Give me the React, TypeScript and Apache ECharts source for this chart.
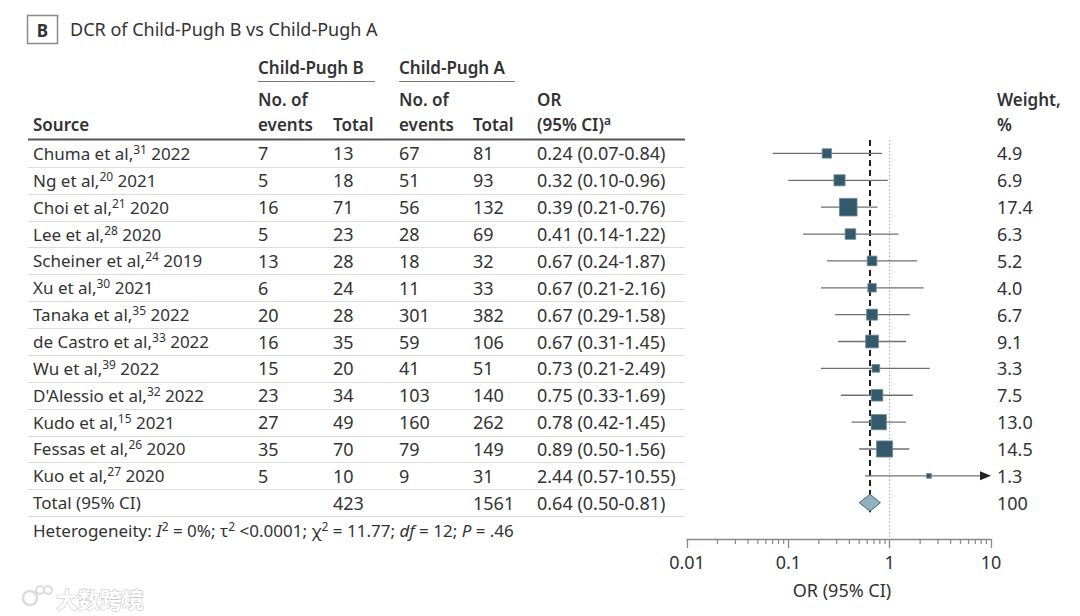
import React, { useEffect, useRef } from 'react';
import * as echarts from 'echarts';

// ---------- data ----------
const studies = ['Chuma et al,', 'Ng et al,', 'Choi et al,', 'Lee et al,', 'Scheiner et al,', 'Xu et al,', 'Tanaka et al,', 'de Castro et al,', 'Wu et al,', "D'Alessio et al,", 'Kudo et al,', 'Fessas et al,', 'Kuo et al,'];
const refs = ['31', '20', '21', '28', '24', '30', '35', '33', '39', '32', '15', '26', '27'];
const years = ['2022', '2021', '2020', '2020', '2019', '2021', '2022', '2022', '2022', '2022', '2021', '2020', '2020'];
const eventsB = [7, 5, 16, 5, 13, 6, 20, 16, 15, 23, 27, 35, 5];
const totalB = [13, 18, 71, 23, 28, 24, 28, 35, 20, 34, 49, 70, 10];
const eventsA = [67, 51, 56, 28, 18, 11, 301, 59, 41, 103, 160, 79, 9];
const totalA = [81, 93, 132, 69, 32, 33, 382, 106, 51, 140, 262, 149, 31];
const oddsRatio = [0.24, 0.32, 0.39, 0.41, 0.67, 0.67, 0.67, 0.67, 0.73, 0.75, 0.78, 0.89, 2.44];
const ciLow = [0.07, 0.10, 0.21, 0.14, 0.24, 0.21, 0.29, 0.31, 0.21, 0.33, 0.42, 0.50, 0.57];
const ciHigh = [0.84, 0.96, 0.76, 1.22, 1.87, 2.16, 1.58, 1.45, 2.49, 1.69, 1.45, 1.56, 10.55];
const weights = [4.9, 6.9, 17.4, 6.3, 5.2, 4.0, 6.7, 9.1, 3.3, 7.5, 13.0, 14.5, 1.3];
const pooledLabel = 'Total (95% CI)';
const pooledTotals = [423, 1561];
const pooledOR = [0.64, 0.50, 0.81];
const pooledWeight = '100';
const tickValues = [0.01, 0.1, 1, 10];
const tickLabels = ['0.01', '0.1', '1', '10'];
const minorTicks = [0.02, 0.03, 0.04, 0.05, 0.06, 0.07, 0.08, 0.09, 0.2, 0.3, 0.4, 0.5, 0.6, 0.7, 0.8, 0.9, 2, 3, 4, 5, 6, 7, 8, 9];

// ---------- layout ----------
const FONT = '"Noto Sans", "Open Sans", sans-serif';
const FS = 17;
const NFS = 18;
const TXT = '#333';
const GRID_LEFT = 687;
const GRID_RIGHT_X = 991;
const GRID_TOP = 140;
const AXIS_Y = 539;
const Y_MIN = -0.5;
const Y_MAX = 14.35;
const UNIT = (AXIS_Y - GRID_TOP) / (Y_MAX - Y_MIN);
const rowY = (i: number) => GRID_TOP + (i - Y_MIN) * UNIT;
const COL = { src: 33, evB: 258, totB: 333, evA: 399, totA: 473, or: 537, w: 997 };
const fmt = (v: number) => v.toFixed(2);

const richBase = {
  n: { fontSize: FS, fontFamily: FONT, fill: TXT, lineHeight: 20, verticalAlign: 'middle' },
  s: { fontSize: 12, fontFamily: FONT, fill: TXT, lineHeight: 11, verticalAlign: 'top' },
  i: { fontSize: FS, fontFamily: FONT, fill: TXT, lineHeight: 20, fontStyle: 'italic', verticalAlign: 'middle' },
  b: { fontSize: FS, fontFamily: FONT, fill: TXT, lineHeight: 20, fontWeight: 600, verticalAlign: 'middle' },
  bs: { fontSize: 12, fontFamily: FONT, fill: TXT, lineHeight: 11, fontWeight: 600, verticalAlign: 'top' },
};

function text(x: number, y: number, t: string, extra: any = {}) {
  return {
    type: 'text',
    x,
    y,
    silent: true,
    style: {
      text: t,
      fill: TXT,
      fontSize: FS,
      fontFamily: FONT,
      align: 'left',
      verticalAlign: 'middle',
      rich: richBase,
      ...extra,
    },
  };
}
const num = (x: number, y: number, t: string) => text(x, y, t, { fontSize: NFS });

function hline(x1: number, x2: number, y: number, stroke: string, lineWidth: number) {
  return { type: 'line', silent: true, shape: { x1, y1: y, x2, y2: y }, style: { stroke, lineWidth } };
}

function buildGraphics() {
  const g: any[] = [];
  // title
  g.push({ type: 'rect', shape: { x: 27.5, y: 15.5, width: 30, height: 28 }, style: { fill: '#fff', stroke: '#8a8a8a', lineWidth: 1.5 } });
  g.push(text(42.5, 30, 'B', { align: 'center', fontWeight: 'bold', fontSize: 17 }));
  g.push(text(70, 29, 'DCR of Child-Pugh B vs Child-Pugh A', { fontSize: 18 }));
  // column headers
  g.push(text(COL.evB, 67, 'Child-Pugh B', { fontWeight: 600 }));
  g.push(text(COL.evA, 67, 'Child-Pugh A', { fontWeight: 600 }));
  g.push(hline(258, 375, 81.5, '#777', 1));
  g.push(hline(399, 515, 81.5, '#777', 1));
  g.push(text(COL.evB, 99, 'No. of', { fontWeight: 600 }));
  g.push(text(COL.evA, 99, 'No. of', { fontWeight: 600 }));
  g.push(text(COL.or, 99, 'OR', { fontWeight: 600 }));
  g.push(text(COL.w, 99, 'Weight,', { fontWeight: 600 }));
  g.push(text(COL.src, 124, 'Source', { fontWeight: 600 }));
  g.push(text(COL.evB, 124, 'events', { fontWeight: 600 }));
  g.push(text(COL.totB, 124, 'Total', { fontWeight: 600 }));
  g.push(text(COL.evA, 124, 'events', { fontWeight: 600 }));
  g.push(text(COL.totA, 124, 'Total', { fontWeight: 600 }));
  g.push(text(COL.or, 124, '{b|(95% CI)}{bs|a}'));
  g.push(text(COL.w, 124, '%', { fontWeight: 600 }));
  g.push(hline(28, 685, 139.5, '#555', 2));
  // study rows
  studies.forEach((s, i) => {
    const y = rowY(i);
    g.push(text(COL.src, y, `{n|${s}}{s|${refs[i]}}{n| ${years[i]}}`));
    g.push(num(COL.evB, y, String(eventsB[i])));
    g.push(num(COL.totB, y, String(totalB[i])));
    g.push(num(COL.evA, y, String(eventsA[i])));
    g.push(num(COL.totA, y, String(totalA[i])));
    g.push(num(COL.or, y, `${fmt(oddsRatio[i])} (${fmt(ciLow[i])}-${fmt(ciHigh[i])})`));
    g.push(num(COL.w, y, weights[i].toFixed(1)));
    g.push(hline(28, 685, Math.round(y + UNIT / 2) + 0.5, '#dcdcdc', 1.2));
  });
  // pooled row
  const py = rowY(studies.length);
  g.push(text(COL.src, py, pooledLabel));
  g.push(num(COL.totB, py, String(pooledTotals[0])));
  g.push(num(COL.totA, py, String(pooledTotals[1])));
  g.push(num(COL.or, py, `${fmt(pooledOR[0])} (${fmt(pooledOR[1])}-${fmt(pooledOR[2])})`));
  g.push(num(COL.w, py, pooledWeight));
  g.push(hline(28, 685, Math.round(py + UNIT / 2) + 0.5, '#dcdcdc', 1.2));
  // heterogeneity
  g.push(text(COL.src, 530, '{n|Heterogeneity: }{i|I}{s|2}{n| = 0%; τ}{s|2}{n| <0.0001; χ}{s|2}{n| = 11.77; }{i|df}{n| = 12; }{i|P}{n| = .46}'));
  // axis name
  g.push(text(842, 590, 'OR (95% CI)', { align: 'center', fontSize: 18 }));
  // watermark
  g.push({ type: 'circle', shape: { cx: 30, cy: 598, r: 7 }, style: { fill: 'none', stroke: '#ddd', lineWidth: 2.5 } });
  g.push({ type: 'circle', shape: { cx: 40, cy: 590, r: 4 }, style: { fill: 'none', stroke: '#ddd', lineWidth: 2 } });
  g.push({ type: 'circle', shape: { cx: 48, cy: 590, r: 4 }, style: { fill: 'none', stroke: '#ddd', lineWidth: 2 } });
  g.push(text(56, 598, '大数跨境', { fontSize: 22, fontFamily: '"Noto Sans CJK SC", sans-serif', fill: '#fff', stroke: '#c8c8c8', lineWidth: 1.2, fontWeight: 'bold' }));
  return g;
}

export default function App() {
  const ref = useRef<HTMLDivElement>(null);
  useEffect(() => {
    document.body.style.margin = '0';
    if (!ref.current) return;
    const chart = echarts.init(ref.current, null, { renderer: 'svg' });
    const studyData = studies.map((_, i) => [oddsRatio[i], i, ciLow[i], ciHigh[i], weights[i]]);
    const option: any = {
      animation: false,
      backgroundColor: '#fff',
      grid: { left: GRID_LEFT, right: 1080 - GRID_RIGHT_X, top: GRID_TOP, bottom: 616 - AXIS_Y },
      xAxis: {
        type: 'log',
        logBase: 10,
        min: tickValues[0],
        max: tickValues[tickValues.length - 1],
        axisLine: { show: true, onZero: false, lineStyle: { color: '#888', width: 1.3 } },
        axisTick: { show: true, inside: false, length: 9, lineStyle: { color: '#888', width: 1.3 } },
        axisLabel: {
          color: TXT,
          fontSize: 18,
          fontFamily: FONT,
          margin: 14,
          formatter: (v: number) => {
            let best = 0;
            tickValues.forEach((t, k) => {
              if (Math.abs(Math.log10(t) - Math.log10(v)) < Math.abs(Math.log10(tickValues[best]) - Math.log10(v))) best = k;
            });
            return tickLabels[best];
          },
        },
        splitLine: { show: false },
        minorTick: { show: false },
      },
      yAxis: {
        type: 'value',
        inverse: true,
        min: Y_MIN,
        max: Y_MAX,
        show: false,
      },
      series: [
        {
          type: 'line',
          data: [[1, Y_MIN], [1, Y_MAX]],
          symbol: 'none',
          lineStyle: { color: '#aaa', width: 1, type: [1.5, 2] },
          silent: true,
          z: 1,
        },
        {
          type: 'line',
          data: [[pooledOR[0], Y_MIN], [pooledOR[0], studies.length + 0.35]],
          symbol: 'none',
          lineStyle: { color: '#1e1e1e', width: 2, type: [6, 4] },
          silent: true,
          z: 2,
        },
        {
          type: 'custom',
          z: 3,
          silent: true,
          clip: false,
          encode: { x: 0, y: 1 },
          data: studyData,
          renderItem: (params: any, api: any) => {
            const row = api.value(1);
            const c = api.coord([api.value(0), row]);
            const lo = api.coord([api.value(2), row]);
            const hiVal = api.value(3);
            const capped = Math.min(hiVal, tickValues[tickValues.length - 1]);
            const hi = api.coord([capped, row]);
            const side = 4.24 * Math.sqrt(api.value(4));
            const children: any[] = [
              { type: 'line', shape: { x1: lo[0], y1: lo[1], x2: hiVal > capped ? hi[0] - 8 : hi[0], y2: hi[1] }, style: { stroke: '#707070', lineWidth: 1.3 } },
            ];
            if (hiVal > capped) {
              children.push({ type: 'polygon', shape: { points: [[hi[0], hi[1]], [hi[0] - 11, hi[1] - 4.5], [hi[0] - 11, hi[1] + 4.5]] }, style: { fill: '#222' } });
            }
            children.push({
              type: 'rect',
              shape: { x: c[0] - side / 2, y: c[1] - side / 2, width: side, height: side },
              style: { fill: '#34596b', stroke: '#6d8d9c', lineWidth: 0.8 },
            });
            return { type: 'group', children };
          },
        },
        {
          type: 'custom',
          z: 4,
          silent: true,
          clip: false,
          encode: { x: 0, y: 1 },
          data: [[pooledOR[0], studies.length, pooledOR[1], pooledOR[2]]],
          renderItem: (params: any, api: any) => {
            const row = api.value(1);
            const c = api.coord([api.value(0), row]);
            const lo = api.coord([api.value(2), row]);
            const hi = api.coord([api.value(3), row]);
            return {
              type: 'polygon',
              shape: { points: [[lo[0], c[1]], [c[0], c[1] - 8.5], [hi[0], c[1]], [c[0], c[1] + 8.5]] },
              style: { fill: '#8fb1be', stroke: '#46677a', lineWidth: 1 },
            };
          },
        },
        {
          type: 'custom',
          z: 4,
          silent: true,
          clip: false,
          encode: { x: 0 },
          data: minorTicks.map((v) => [v]),
          renderItem: (params: any, api: any) => {
            const p = api.coord([api.value(0), Y_MAX]);
            return { type: 'line', shape: { x1: p[0], y1: p[1], x2: p[0], y2: p[1] + 5 }, style: { stroke: '#888', lineWidth: 1.2 } };
          },
        },
      ],
      graphic: buildGraphics(),
    };
    chart.setOption(option);
    return () => chart.dispose();
  }, []);
  return <div ref={ref} style={{ width: 1080, height: 616 }} />;
}
